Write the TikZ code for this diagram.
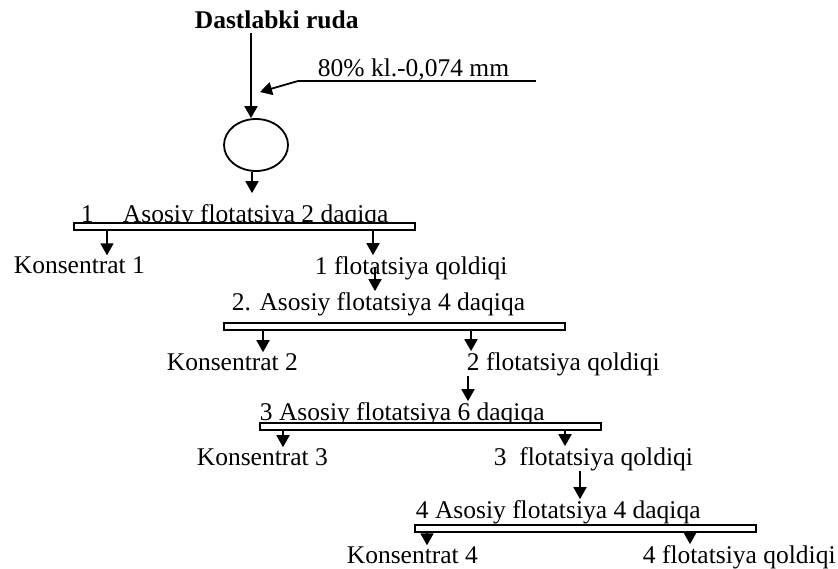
\documentclass[tikz,border=0pt]{standalone}
\usepackage{fontspec}
\setmainfont{Liberation Serif}
\usetikzlibrary{shapes.geometric,arrows.meta}

\begin{document}
\begin{tikzpicture}[
  x=0.5pt, y=-0.5pt,
  line width=0.9pt,
  lbl/.style={anchor=base west, inner sep=0pt, font=\fontsize{12.75}{15}\selectfont},
  bar/.style={draw, fill=white, line width=1pt, inner sep=0pt, anchor=north west,
              minimum width=170.5pt, minimum height=3.5pt},
  arr/.style={-{Triangle[width=6.5pt,length=6pt]}}
]
\useasboundingbox (0,0) rectangle (838,568);

\node[lbl, font=\fontsize{12.75}{15}\selectfont\bfseries] (ruda) at (194,28) {Dastlabki ruda};
\node[lbl] (feed) at (317,76) {80\% kl.-0,074 mm};
\coordinate (fr) at (536,81);
\coordinate (fl) at (298,81);
\coordinate (fin) at (260,92);
\node[draw, ellipse, minimum width=32pt, minimum height=26pt, inner sep=0pt] (mill) at (256,145) {};

\node[lbl] (t1) at (80,222) {1\hskip1.15em Asosiy flotatsiya 2 daqiqa};
\node[bar] (b1) at (73,222) {};
\node[lbl] (k1) at (13,273) {Konsentrat 1};
\node[lbl] (q1) at (314,274) {1 flotatsiya qoldiqi};

\node[lbl] (t2) at (231,310) {2. Asosiy flotatsiya 4 daqiqa};
\node[bar] (b2) at (223,322) {};
\node[lbl] (k2) at (166,370) {Konsentrat 2};
\node[lbl] (q2) at (466,370) {2 flotatsiya qoldiqi};

\node[lbl] (t3) at (259,420) {3 Asosiy flotatsiya 6 daqiqa};
\node[bar] (b3) at (259,422) {};
\node[lbl] (k3) at (196,465) {Konsentrat 3};
\node[lbl] (q3) at (493,465) {3\ \ flotatsiya qoldiqi};

\node[lbl] (t4) at (415,518) {4 Asosiy flotatsiya 4 daqiqa};
\node[bar] (b4) at (414,524) {};
\node[lbl] (k4) at (346,563) {Konsentrat 4};
\node[lbl] (q4) at (642,563) {4 flotatsiya qoldiqi};

% feed and grinding
\draw (fr) -- (fl);
\draw[arr] (fl) -- (fin);
\draw[arr] ([xshift=28.5pt,yshift=-2.5pt]ruda.base west) -- ([xshift=28.5pt]ruda.base west |- mill.north);
\draw[arr, shorten >=5pt] ([xshift=-2pt]mill.south) -- ([xshift=-2pt]mill.south |- t1.north);

% stage 1
\draw[arr] ([xshift=17pt]b1.south west) -- ([xshift=17pt]b1.south west |- k1.north);
\draw[arr] ([xshift=150pt]b1.south west) -- ([xshift=150pt]b1.south west |- q1.north);
\draw[arr] ([xshift=30.5pt,yshift=3.5pt]q1.base west) -- ([xshift=30.5pt]q1.base west |- t2.north);

% stage 2
\draw[arr] ([xshift=20pt]b2.south west) -- ([xshift=20pt]b2.south west |- k2.north);
\draw[arr] ([xshift=124pt]b2.south west) -- ([xshift=124pt]b2.south west |- q2.north);
\draw[arr] ([xshift=1pt]q2.south west) -- ([xshift=1pt]q2.south west |- t3.north);

% stage 3
\draw[arr] ([xshift=12pt]b3.south west) -- ([xshift=12pt]b3.south west |- k3.north);
\draw[arr] ([xshift=153pt]b3.south west) -- ([xshift=153pt]b3.south west |- q3.north);
\draw[arr] ([xshift=43.5pt]q3.south west) -- ([xshift=43.5pt]q3.south west |- t4.north);

% stage 4
\draw[arr] ([xshift=6.5pt]b4.south west) -- ([xshift=6.5pt]b4.south west |- k4.north);
\draw[arr] ([xshift=138pt]b4.south west) -- ([xshift=138pt]b4.south west |- q4.north);
\end{tikzpicture}
\end{document}
